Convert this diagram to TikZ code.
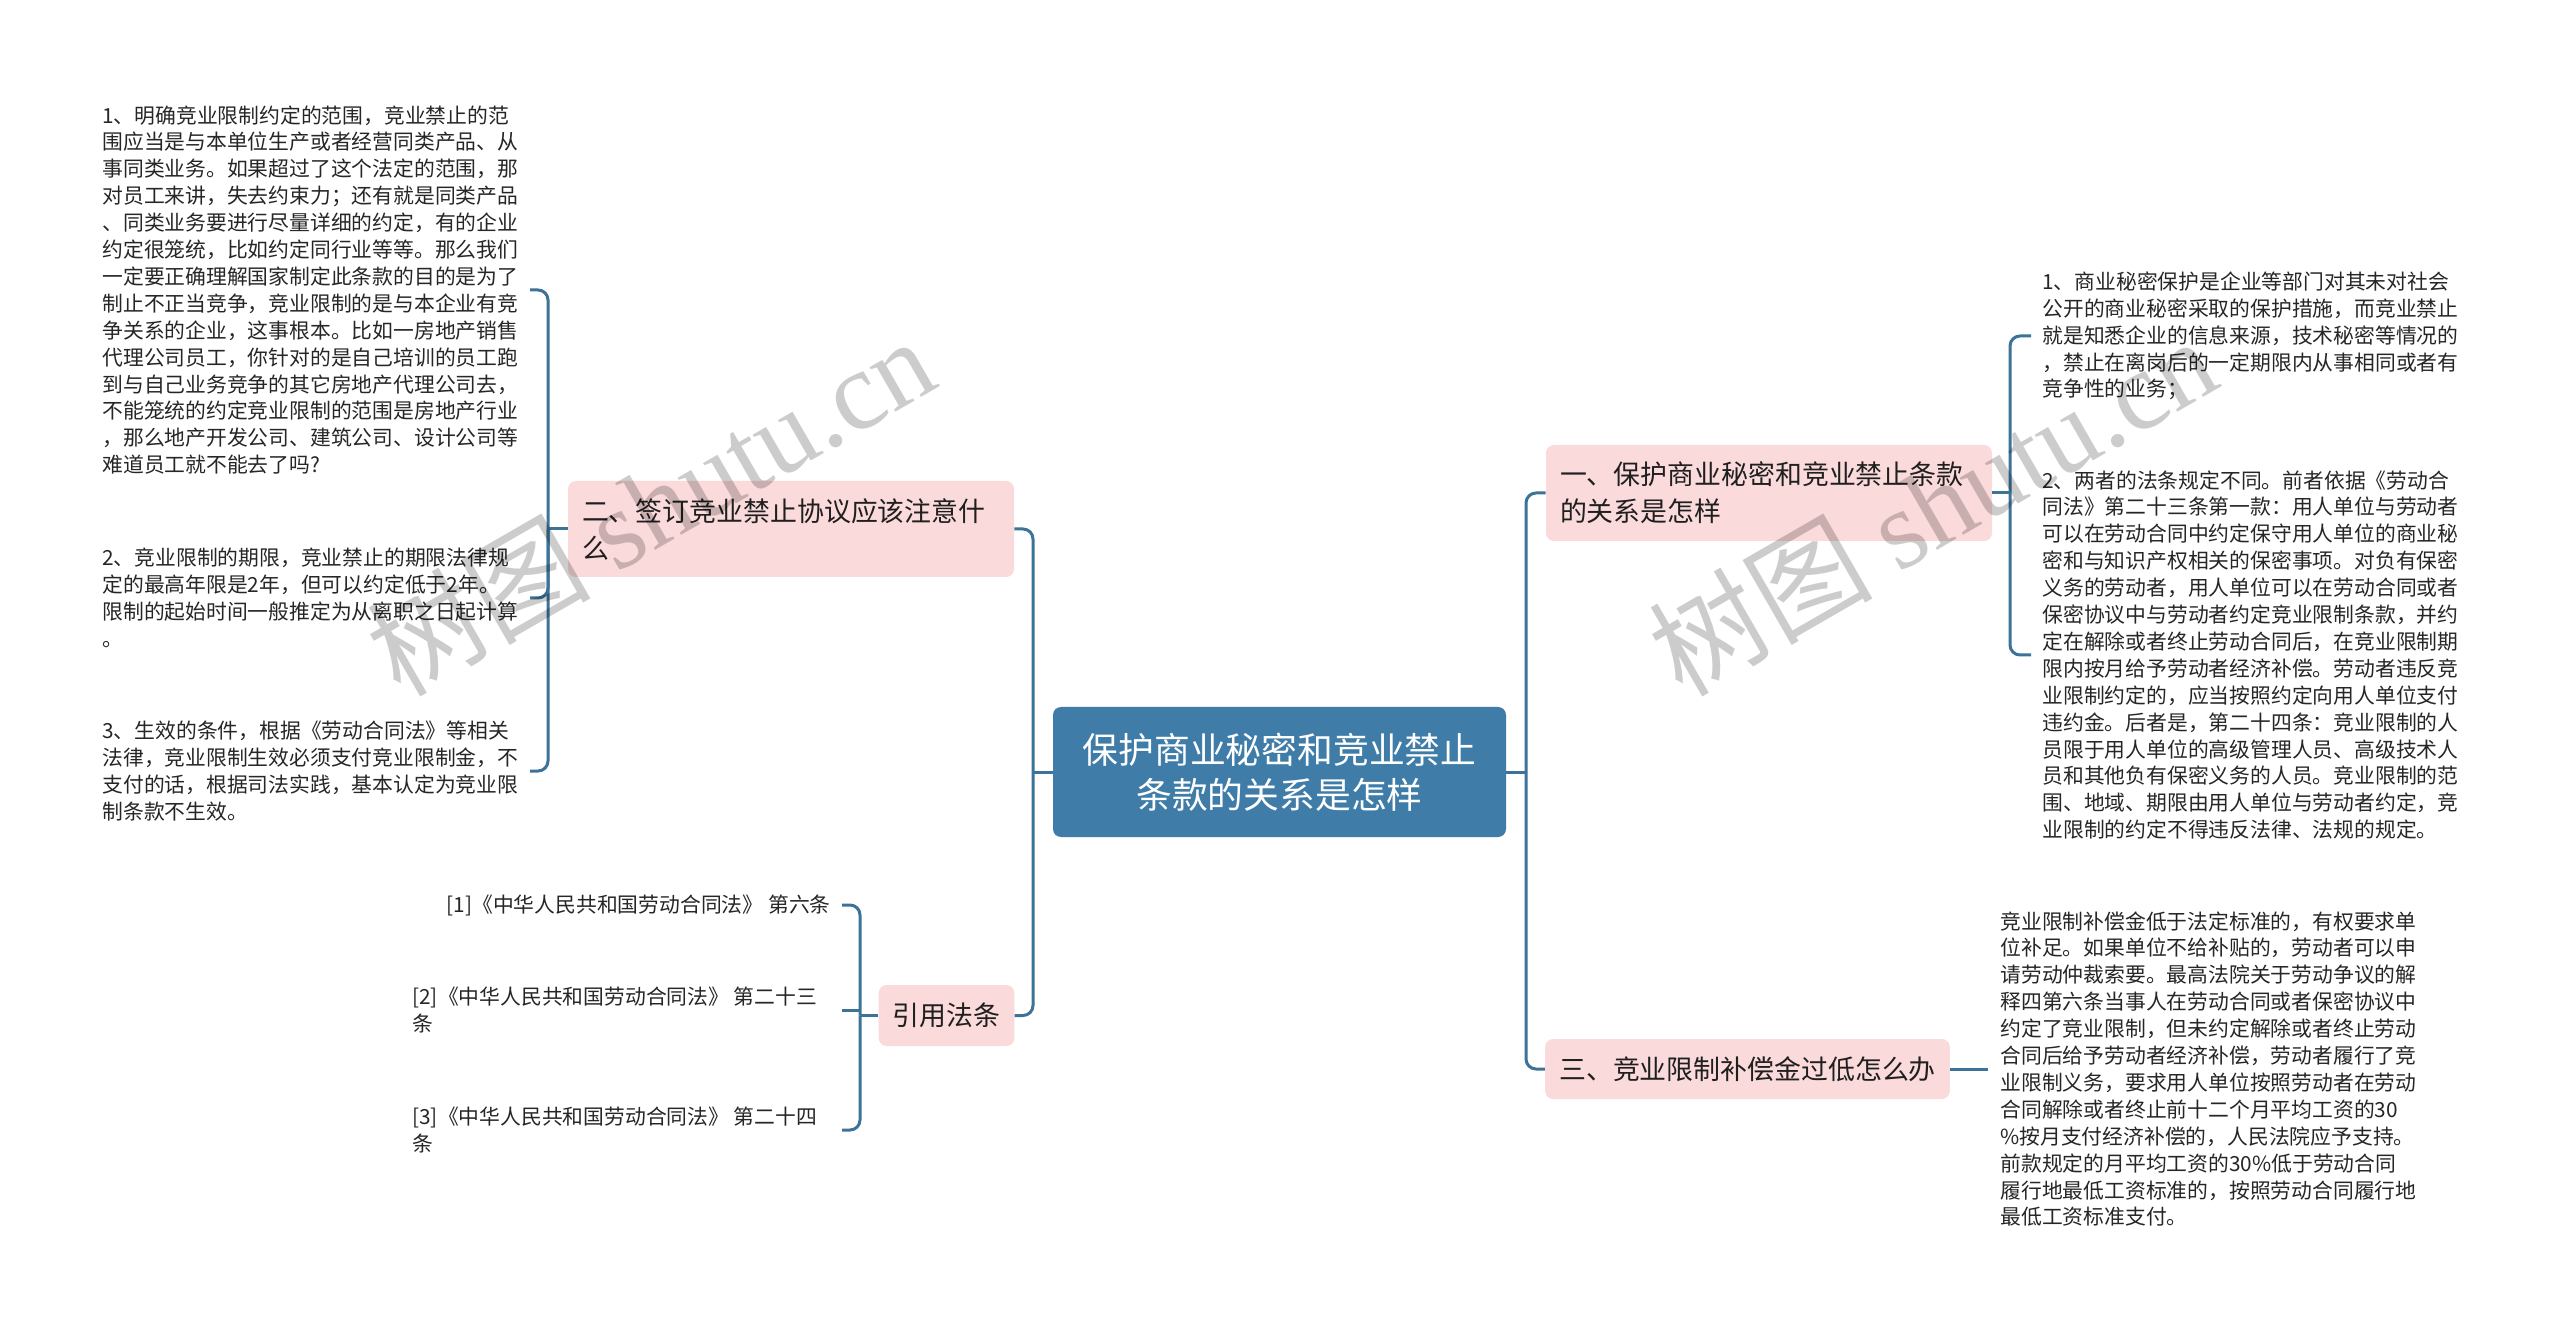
\documentclass[tikz,border=0pt]{standalone}
\usepackage{fontspec}
\setmainfont{Noto Sans CJK SC}
\newfontfamily\wmlatin{Liberation Serif}
\definecolor{lineblue}{HTML}{3D7399}
\definecolor{rootblue}{HTML}{3F7DA8}
\definecolor{pinkfill}{HTML}{FADADA}
\begin{document}
\begin{tikzpicture}[x=0.5pt,y=-0.5pt,
  conn/.style={draw=lineblue, line width=1.5pt, rounded corners=5pt},
  rootbox/.style={fill=rootblue, rounded corners=4pt, text=white, minimum width=226.5pt, minimum height=65pt, align=center, font=\fontsize{17.9}{22.5}\selectfont, inner sep=0pt},
  branchbox/.style={fill=pinkfill, rounded corners=4pt, text=black!88, font=\fontsize{13.45}{18.5}\selectfont, inner xsep=7pt, inner ysep=0pt},
  leaf/.style={align=left, inner sep=0pt, font=\fontsize{10.4}{13.45}\selectfont, text=black!85},
  wm/.style={rotate=30, text=black, text opacity=0.2, font=\fontsize{56}{56}\selectfont}
]
\fill[white] (0,0) rectangle (2560,1331);
\useasboundingbox (0,0) rectangle (2560,1331);

% root and branches
\node[rootbox] (root) at (1279.5,772) {保护商业秘密和竞业禁止\\条款的关系是怎样};
\node[branchbox, minimum width=223pt, minimum height=48pt, text width=209pt, align=left] (b1) at (1769,493) {一、保护商业秘密和竞业禁止条款\\的关系是怎样};
\node[branchbox, minimum width=223pt, minimum height=48pt, text width=209pt, align=left] (b2) at (791,529) {二、签订竞业禁止协议应该注意什\\么};
\node[branchbox, minimum width=201.5pt, minimum height=30pt] (b3) at (1747.5,1069) {三、竞业限制补偿金过低怎么办};
\node[branchbox, minimum width=66.5pt, minimum height=30.5pt] (b4) at (946.5,1015.5) {引用法条};

% right leaves
\node[leaf, anchor=west] (r1) at (2042,336) {1、商业秘密保护是企业等部门对其未对社会\\公开的商业秘密采取的保护措施，而竞业禁止\\就是知悉企业的信息来源，技术秘密等情况的\\，禁止在离岗后的一定期限内从事相同或者有\\竞争性的业务；};
\node[leaf, anchor=west] (r2) at (2042,655) {2、两者的法条规定不同。前者依据《劳动合\\同法》第二十三条第一款：用人单位与劳动者\\可以在劳动合同中约定保守用人单位的商业秘\\密和与知识产权相关的保密事项。对负有保密\\义务的劳动者，用人单位可以在劳动合同或者\\保密协议中与劳动者约定竞业限制条款，并约\\定在解除或者终止劳动合同后，在竞业限制期\\限内按月给予劳动者经济补偿。劳动者违反竞\\业限制约定的，应当按照约定向用人单位支付\\违约金。后者是，第二十四条：竞业限制的人\\员限于用人单位的高级管理人员、高级技术人\\员和其他负有保密义务的人员。竞业限制的范\\围、地域、期限由用人单位与劳动者约定，竞\\业限制的约定不得违反法律、法规的规定。};
\node[leaf, anchor=west] (r3) at (2000,1069) {竞业限制补偿金低于法定标准的，有权要求单\\位补足。如果单位不给补贴的，劳动者可以申\\请劳动仲裁索要。最高法院关于劳动争议的解\\释四第六条当事人在劳动合同或者保密协议中\\约定了竞业限制，但未约定解除或者终止劳动\\合同后给予劳动者经济补偿，劳动者履行了竞\\业限制义务，要求用人单位按照劳动者在劳动\\合同解除或者终止前十二个月平均工资的30\\\%按月支付经济补偿的，人民法院应予支持。\\前款规定的月平均工资的30\%低于劳动合同\\履行地最低工资标准的，按照劳动合同履行地\\最低工资标准支付。};

% left leaves
\node[leaf, anchor=west] (l1) at (102,290) {1、明确竞业限制约定的范围，竞业禁止的范\\围应当是与本单位生产或者经营同类产品、从\\事同类业务。如果超过了这个法定的范围，那\\对员工来讲，失去约束力；还有就是同类产品\\、同类业务要进行尽量详细的约定，有的企业\\约定很笼统，比如约定同行业等等。那么我们\\一定要正确理解国家制定此条款的目的是为了\\制止不正当竞争，竞业限制的是与本企业有竞\\争关系的企业，这事根本。比如一房地产销售\\代理公司员工，你针对的是自己培训的员工跑\\到与自己业务竞争的其它房地产代理公司去，\\不能笼统的约定竞业限制的范围是房地产行业\\，那么地产开发公司、建筑公司、设计公司等\\难道员工就不能去了吗?};
\node[leaf, anchor=west] (l2) at (102,598) {2、竞业限制的期限，竞业禁止的期限法律规\\定的最高年限是2年，但可以约定低于2年。\\限制的起始时间一般推定为从离职之日起计算\\。};
\node[leaf, anchor=west] (l3) at (102,771) {3、生效的条件，根据《劳动合同法》等相关\\法律，竞业限制生效必须支付竞业限制金，不\\支付的话，根据司法实践，基本认定为竞业限\\制条款不生效。};

% citation leaves
\node[leaf, anchor=east] (c1) at (831,905) {[1]《中华人民共和国劳动合同法》 第六条};
\node[leaf, anchor=west] (c2) at (412,1010) {[2]《中华人民共和国劳动合同法》 第二十三\\条};
\node[leaf, anchor=west] (c3) at (412,1130) {[3]《中华人民共和国劳动合同法》 第二十四\\条};

% junction coordinates
\coordinate (jl) at (1033,772);
\coordinate (jr) at (1526,772);
\coordinate (j1) at (2010,493);
\coordinate (s1) at (2031,0);
\coordinate (s3) at (1988,0);
\coordinate (j2) at (548,529);
\coordinate (s2) at (530,0);
\coordinate (j4) at (860,1015.5);
\coordinate (s4) at (842,0);

% connectors
\draw[conn] (root.west) -- (jl);
\draw[conn] (b2.east) -| (jl);
\draw[conn] (b4.east) -| (jl);
\draw[conn] (root.east) -- (jr);
\draw[conn] (b1.west) -| (jr);
\draw[conn] (b3.west) -| (jr);

\draw[conn] (b1.east) -- (j1);
\draw[conn] (r1.west -| s1) -| (j1);
\draw[conn] (r2.west -| s1) -| (j1);
\draw[conn] (b3.east) -- (r3.west -| s3);

\draw[conn] (b2.west) -- (j2);
\draw[conn] (l1.west -| s2) -| (j2);
\draw[conn] (l2.west -| s2) -| (j2);
\draw[conn] (l3.west -| s2) -| (j2);

\draw[conn] (b4.west) -- (j4);
\draw[conn] (c1.east -| s4) -| (j4);
\draw[conn] (c2.east -| s4) -- (c2.east -| j4);
\draw[conn] (c3.east -| s4) -| (j4);

% watermarks
\node[wm] (wm1) at (650,505) {树图 {\wmlatin shutu.cn}};
\node[wm] (wm2) at (1932,505) {树图 {\wmlatin shutu.cn}};
\end{tikzpicture}
\end{document}
